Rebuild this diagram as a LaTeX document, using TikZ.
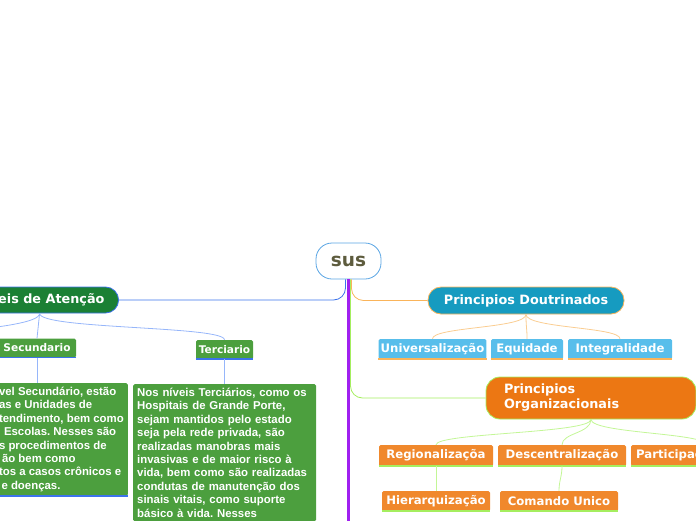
\documentclass[tikz,border=0pt]{standalone}
\usepackage{fontspec}
\setmainfont{DejaVu Sans}
\newfontfamily\notefont{Liberation Sans}
\usepackage{tikz}
\usetikzlibrary{positioning, calc}
\definecolor{susblue}{RGB}{90,165,228}
\definecolor{susolive}{RGB}{94,92,62}
\definecolor{darkgreen}{RGB}{27,128,52}
\definecolor{leafgreen}{RGB}{76,159,62}
\definecolor{tealblue}{RGB}{22,155,192}
\definecolor{skyblue}{RGB}{88,190,235}
\definecolor{deeporange}{RGB}{236,119,19}
\definecolor{lightorange}{RGB}{240,136,44}
\definecolor{linkblue}{RGB}{60,115,235}
\definecolor{paleblue}{RGB}{150,182,250}
\definecolor{linkorange}{RGB}{250,180,90}
\definecolor{paleorange}{RGB}{250,205,145}
\definecolor{limegreen}{RGB}{165,238,95}
\definecolor{palelime}{RGB}{195,246,150}
\definecolor{trunkpurple}{RGB}{160,32,240}

\begin{document}
\begin{tikzpicture}[x=1pt, y=-1pt,
    rootnode/.style={draw=susblue, line width=0.8pt, fill=white, rounded corners=16pt,
          minimum width=65pt, minimum height=36pt, text=susolive, font=\fontsize{18.5}{20}\selectfont\bfseries},
    topicnode/.style={line width=0.8pt, rounded corners=13pt, minimum height=26pt,
          text=white, font=\fontsize{12.8}{15}\selectfont\bfseries},
    subnode/.style={rounded corners=1.5pt, minimum height=20pt, inner xsep=2pt,
          text=white, font=\fontsize{11.7}{13}\selectfont\bfseries},
    leafnode/.style={subnode, fill=leafgreen, minimum height=19pt, font=\fontsize{10.6}{12}\selectfont\bfseries},
    notebox/.style={fill=leafgreen, rounded corners=1.5pt, inner sep=4pt, align=left,
          text=white, font=\notefont\fontsize{11.4}{13.4}\selectfont\bfseries\frenchspacing},
    twig/.style={line width=0.8pt},
    underline/.style={line width=1.5pt}]
    \useasboundingbox (0,0) rectangle (696,520);
    \clip (0,0) rectangle (696,520);

    \node[rootnode] (sus) at (348.5,261) {sus};
    \node[topicnode, fill=darkgreen, draw=linkblue, minimum width=158pt] (niveis) at (39.6,300) {Niveis de Atenção};
    \node[topicnode, fill=tealblue, draw=linkorange, minimum width=196pt, minimum height=27pt] (doutrina) at (526,300.5) {Principios Doutrinados};
    \node[topicnode, fill=deeporange, draw=limegreen, rounded corners=14pt, minimum height=42pt,
          text width=174pt, inner xsep=18pt, align=left] (organiza) at (591,398) {Principios\\Organizacionais};

    \node[leafnode, minimum width=78pt] (secund) at (37,348) {Secundario};
    \node[leafnode, minimum width=57pt] (terc) at (224.5,349.5) {Terciario};
    \coordinate (primario) at (-120,348);

    \node[subnode, fill=skyblue, minimum width=107pt] (univ) at (432.5,349) {Universalização};
    \node[subnode, fill=skyblue, minimum width=72pt] (equid) at (527,349) {Equidade};
    \node[subnode, fill=skyblue, minimum width=104pt] (integ) at (620,349) {Integralidade};

    \node[subnode, fill=lightorange, minimum width=114pt, minimum height=21pt] (region) at (436,455.5) {Regionalizaçõa};
    \node[subnode, fill=lightorange, minimum width=128pt, minimum height=21pt] (descent) at (562,455.5) {Descentralização};
    \node[subnode, fill=lightorange, minimum height=21pt, text width=140pt, inner xsep=5pt, align=left, anchor=west] (partic) at (631,455.5) {Participação};
    \node[subnode, fill=lightorange, minimum width=108pt] (hierarq) at (436,501) {Hierarquização};
    \node[subnode, fill=lightorange, minimum width=118pt] (comando) at (559,501) {Comando Unico};

    \node[notebox, anchor=north east] (secnote) at (128,383) {vel Secundário, estão\\as e Unidades de\\tendimento, bem como\\\hspace*{5pt}Escolas. Nesses são\\s procedimentos de\\\hspace*{3pt}ão bem como\\tos a casos crônicos e\\\hspace*{2.5pt}e doenças.};
    \node[notebox, anchor=north west, text width=175pt] (tercnote) at (133,384) {Nos níveis Terciários, como os\\Hospitais de Grande Porte,\\sejam mantidos pelo estado\\seja pela rede privada, são\\realizadas manobras mais\\invasivas e de maior risco à\\vida, bem como são realizadas\\condutas de manutenção dos\\sinais vitais, como suporte\\básico à vida. Nesses};
    \coordinate (trunkend) at (348.5,540);

    \foreach \n/\c in {secund/linkblue, terc/linkblue, secnote/linkblue, univ/linkorange, equid/linkorange, integ/linkorange,
                       region/limegreen, descent/limegreen, partic/limegreen, hierarq/limegreen, comando/limegreen}
        \draw[underline, \c] (\n.south west) -- (\n.south east);

    \draw[twig, linkblue, rounded corners=12pt] ([xshift=-3pt]sus.south) |- (niveis.east);
    \draw[twig, linkorange, rounded corners=12pt] ([xshift=3pt]sus.south) |- (doutrina.west);
    \draw[twig, limegreen, rounded corners=12pt] ([xshift=2pt]sus.south) |- (organiza.west);
    \draw[trunkpurple, line width=3pt] (sus.south) -- (trunkend);

    \draw[twig, paleblue] (niveis.south) .. controls +(0,18) and +(0,-16) .. (primario);
    \draw[twig, paleblue] (niveis.south) -- (secund.north);
    \draw[twig, paleblue] (niveis.south) .. controls +(0,16) and +(0,-14) .. (terc.north);
    \draw[twig, paleblue] (secund.south) -- (secund.south |- secnote.north);
    \draw[twig, paleblue] (terc.south) -- (terc.south |- tercnote.north);

    \foreach \c in {univ, equid, integ}
        \draw[twig, paleorange] (doutrina.south) .. controls +(0,14) and +(0,-12) .. (\c.north);
    \foreach \c in {region, descent, partic}
        \draw[twig, palelime] (organiza.south) .. controls +(0,14) and +(0,-12) .. (\c.north);
    \draw[twig, palelime] (region.south) -- (hierarq.north);
    \draw[twig, palelime] (descent.south) .. controls +(0,10) and +(0,-10) .. (comando.north);
\end{tikzpicture}
\end{document}
